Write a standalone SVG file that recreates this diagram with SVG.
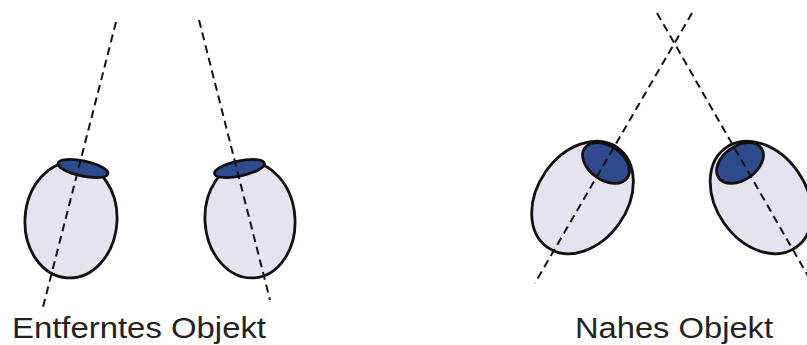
<svg xmlns="http://www.w3.org/2000/svg" width="807" height="345" viewBox="0 0 807 345">
  <style>
    .body { fill: #e5e3ef; stroke: #111; stroke-width: 2.8; }
    .cornea { fill: #2d4b8c; stroke: #111; stroke-width: 2.8; }
    .sight { fill: none; stroke: #111; stroke-width: 2; stroke-dasharray: 8 5; }
    .label { font-family: "Liberation Sans", Arial, sans-serif; font-size: 30px; fill: #222; }
  </style>
  <rect width="807" height="345" fill="#fff"/>

  <!-- distant object: parallel-ish lines of sight -->
  <g id="eye-far-left">
    <ellipse class="body" cx="71" cy="220" rx="46" ry="58" transform="rotate(4 71 220)"/>
    <ellipse class="cornea" cx="83" cy="168.5" rx="25.5" ry="7.5" transform="rotate(12 83 168.5)"/>
  </g>
  <g id="eye-far-right">
    <ellipse class="body" cx="250" cy="220" rx="45" ry="58" transform="rotate(-4 250 220)"/>
    <ellipse class="cornea" cx="239.5" cy="168.5" rx="25.5" ry="7.5" transform="rotate(-12 239.5 168.5)"/>
  </g>

  <!-- near object: converging lines of sight -->
  <g id="eye-near-left">
    <ellipse class="body" cx="582.5" cy="197.5" rx="45" ry="61" transform="rotate(35 582.5 197.5)"/>
    <ellipse class="cornea" cx="606" cy="163" rx="26" ry="17" transform="rotate(35 606 163)"/>
  </g>
  <g id="eye-near-right">
    <ellipse class="body" cx="761" cy="197.5" rx="45" ry="61" transform="rotate(-35 761 197.5)"/>
    <ellipse class="cornea" cx="740" cy="163" rx="26" ry="17" transform="rotate(-35 740 163)"/>
  </g>

  <g id="connectors">
    <line class="sight" x1="116" y1="22" x2="42" y2="311"/>
    <line class="sight" x1="199" y1="20" x2="270" y2="300"/>
    <line class="sight" x1="692" y1="13" x2="535" y2="283"/>
    <line class="sight" x1="657" y1="13" x2="812" y2="283"/>
  </g>

  <g id="labels">
    <text class="label" x="12" y="338" textLength="254" lengthAdjust="spacingAndGlyphs">Entferntes Objekt</text>
    <text class="label" x="575" y="338" textLength="198" lengthAdjust="spacingAndGlyphs">Nahes Objekt</text>
  </g>
</svg>
